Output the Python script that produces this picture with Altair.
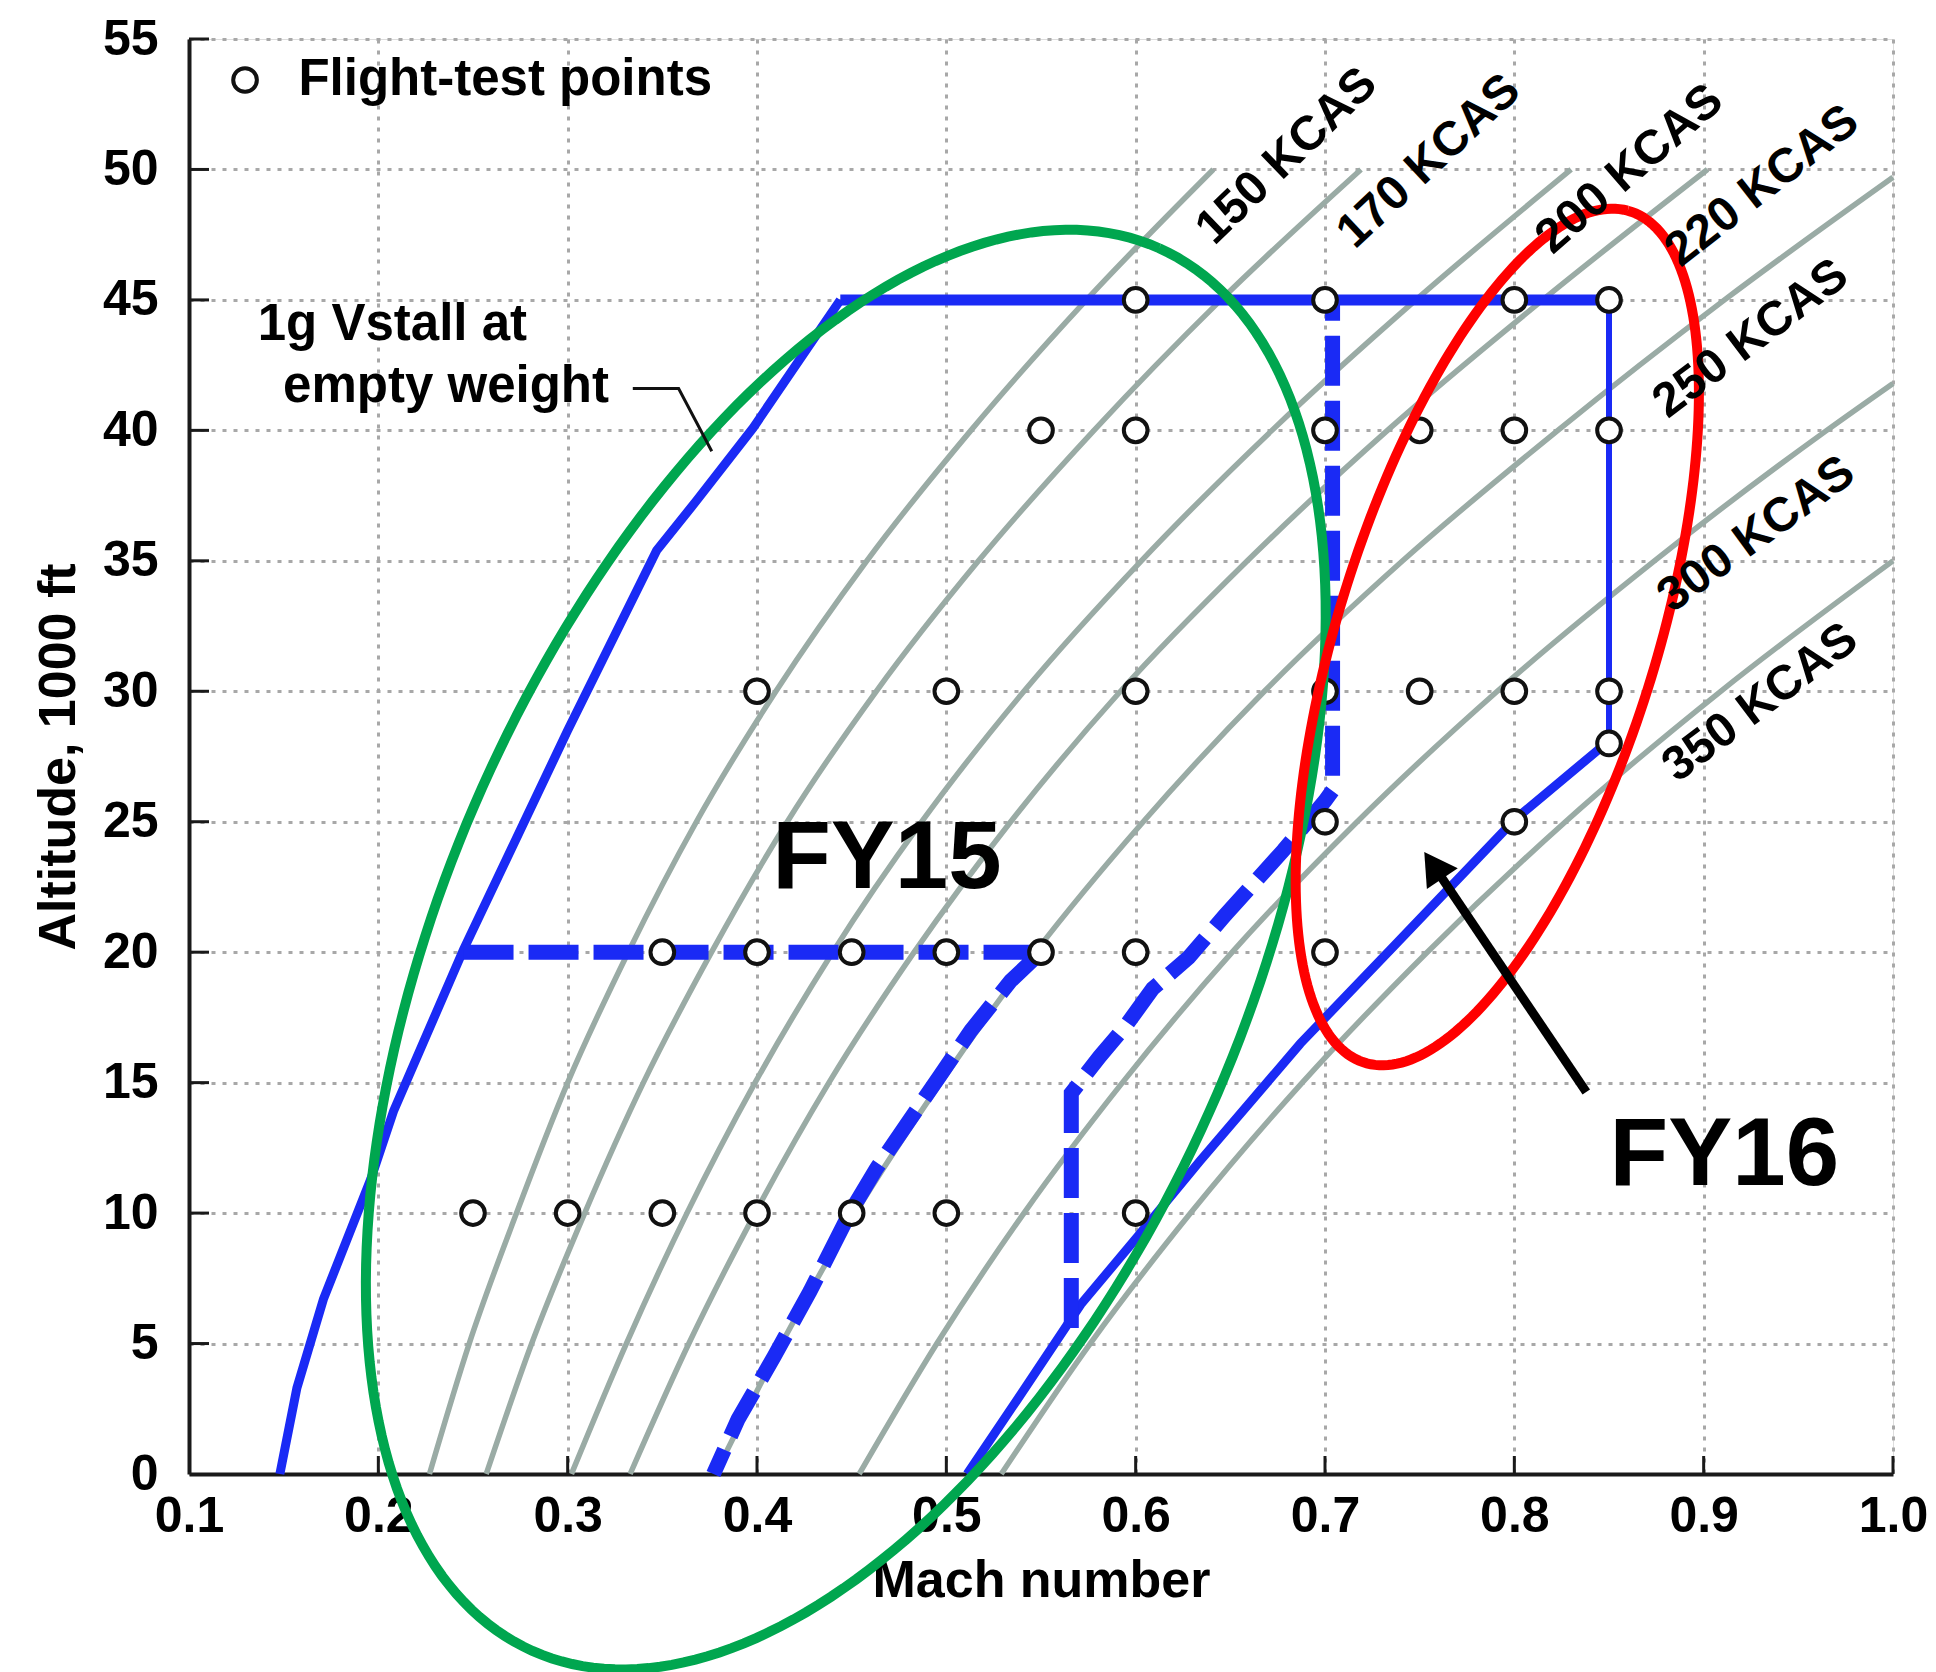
import numpy as np
import pandas as pd
import altair as alt

FONT = "Liberation Sans"
BLUE = "#1a2af5"
GRAY_LINE = "#9aaba5"
GREEN = "#00a64f"
RED = "#ff0000"

# ---------------- axis ticks ----------------
X_TICKS = [0.1, 0.2, 0.3, 0.4, 0.5, 0.6, 0.7, 0.8, 0.9, 1.0]
Y_TICKS = [0, 5, 10, 15, 20, 25, 30, 35, 40, 45, 50, 55]

# ---------------- constant-KCAS curves (Mach vs altitude, 1000 ft) ----------------
KCAS_NAMES = ["150 KCAS", "170 KCAS", "200 KCAS", "220 KCAS", "250 KCAS", "300 KCAS", "350 KCAS"]
KCAS_ALTS = [
    [0, 5, 10, 15, 20, 25, 30, 35, 40, 45, 50],
    [0, 5, 10, 15, 20, 25, 30, 35, 40, 45, 50],
    [0, 5, 10, 15, 20, 25, 30, 35, 40, 45, 50],
    [0, 5, 10, 15, 20, 25, 30, 35, 40, 45, 50],
    [0, 5, 10, 15, 20, 25, 30, 35, 40, 45, 49.7],
    [0, 5, 10, 15, 20, 25, 30, 35, 40, 41.8],
    [0, 5, 10, 15, 20, 25, 30, 35.0],
]
KCAS_MACH = [
    [0.227, 0.248, 0.273, 0.300, 0.332, 0.368, 0.410, 0.458, 0.513, 0.574, 0.641],
    [0.257, 0.281, 0.309, 0.340, 0.376, 0.416, 0.463, 0.517, 0.578, 0.645, 0.719],
    [0.302, 0.331, 0.363, 0.399, 0.440, 0.487, 0.541, 0.603, 0.672, 0.748, 0.830],
    [0.333, 0.364, 0.399, 0.438, 0.483, 0.534, 0.592, 0.659, 0.733, 0.815, 0.902],
    [0.378, 0.413, 0.452, 0.497, 0.547, 0.604, 0.668, 0.741, 0.823, 0.911, 1.000],
    [0.454, 0.495, 0.541, 0.593, 0.651, 0.717, 0.791, 0.874, 0.965, 1.000],
    [0.529, 0.576, 0.629, 0.688, 0.754, 0.827, 0.909, 1.000],
]
KCAS_LABEL_MACH = [0.680, 0.755, 0.861, 0.931, 0.925, 0.928, 0.930]
KCAS_LABEL_ALT = [50.5, 50.3, 50.0, 49.35, 43.5, 36.0, 29.55]
KCAS_LABEL_ANGLE = [316, 317, 319, 322, 323, 324, 323]

# ---------------- flight-test points ----------------
TEST_MACH = [0.60, 0.70, 0.80, 0.85,
             0.55, 0.60, 0.70, 0.75, 0.80, 0.85,
             0.40, 0.50, 0.60, 0.70, 0.75, 0.80, 0.85,
             0.85,
             0.70, 0.80,
             0.35, 0.40, 0.45, 0.50, 0.55, 0.60, 0.70,
             0.25, 0.30, 0.35, 0.40, 0.45, 0.50, 0.60]
TEST_ALT = [45, 45, 45, 45,
            40, 40, 40, 40, 40, 40,
            30, 30, 30, 30, 30, 30, 30,
            28,
            25, 25,
            20, 20, 20, 20, 20, 20, 20,
            10, 10, 10, 10, 10, 10, 10]

# ---------------- envelope (solid blue) ----------------
STALL_MACH = [0.148, 0.157, 0.171, 0.196, 0.208, 0.245, 0.300, 0.347, 0.368, 0.398, 0.444]
STALL_ALT = [0, 3.3, 6.7, 11.3, 13.9, 20.1, 28.5, 35.4, 37.3, 40.1, 45]
TOP_MACH = [0.444, 0.850]
TOP_ALT = [45, 45]
RIGHT_MACH = [0.850, 0.850]
RIGHT_ALT = [45, 28.1]
BOTTOM_MACH = [0.850, 0.8005, 0.736, 0.687, 0.634, 0.601, 0.571, 0.537, 0.511]
BOTTOM_ALT = [28.1, 25.1, 20.2, 16.5, 12.0, 9.1, 6.5, 2.8, 0]

# ---------------- dashed blue boundaries ----------------
DASH_A_MACH = [0.245, 0.550, 0.534, 0.513, 0.496, 0.480, 0.463, 0.449, 0.428, 0.409, 0.390, 0.377]
DASH_A_ALT = [20, 20, 18.9, 17.0, 15.2, 13.5, 11.7, 10.0, 7.0, 4.5, 2.1, 0]
DASH_B_MACH = [0.566, 0.566, 0.581, 0.595, 0.609, 0.628, 0.647, 0.678, 0.700, 0.704, 0.704]
DASH_B_ALT = [5.6, 14.6, 16.0, 17.2, 18.6, 19.8, 21.4, 23.9, 25.8, 26.2, 45]

# ---------------- annotation ellipses (centre, conjugate half-axes in data units) ----------------
GREEN_CENTER = [0.4469, 20.10]
GREEN_AXIS_1 = [0.1655, 26.88]
GREEN_AXIS_2 = [0.1920, -6.22]
RED_CENTER = [0.791, 32.08]
RED_AXIS_1 = [0.0689, 16.34]
RED_AXIS_2 = [0.0812, -1.58]

# ---------------- arrow, leader, texts ----------------
ARROW_MACH = [0.838, 0.7572]
ARROW_ALT = [14.64, 23.33]
LEADER_MACH = [0.3344, 0.3586, 0.3761]
LEADER_ALT = [41.6, 41.6, 39.2]

NOTE_TEXT = ["Flight-test points", "1g Vstall at", "empty weight"]
NOTE_MACH = [0.1578, 0.1363, 0.1497]
NOTE_ALT = [52.86, 43.47, 41.1]
LEGEND_MACH = [0.1296]
LEGEND_ALT = [53.43]

FY_TEXT = ["FY15", "FY16"]
FY_MACH = [0.4686, 0.9109]
FY_ALT = [23.57, 12.19]

# ---------------- build frames ----------------
def path(mach, alt_):
    return pd.DataFrame({"mach": mach, "alt": alt_, "i": list(range(len(mach)))})

kcas_rows = []
for name, ms, hs in zip(KCAS_NAMES, KCAS_MACH, KCAS_ALTS):
    for k, (m, h) in enumerate(zip(ms, hs)):
        kcas_rows.append({"kcas": name, "mach": m, "alt": h, "i": k})
kcas_df = pd.DataFrame(kcas_rows)

kcas_lab = pd.DataFrame({"label": KCAS_NAMES, "mach": KCAS_LABEL_MACH,
                         "alt": KCAS_LABEL_ALT, "ang": KCAS_LABEL_ANGLE})

pts_df = pd.DataFrame({"mach": TEST_MACH, "alt": TEST_ALT})
legend_df = pd.DataFrame({"mach": LEGEND_MACH, "alt": LEGEND_ALT})

dash_df = pd.concat([path(DASH_A_MACH, DASH_A_ALT).assign(seg="A"),
                     path(DASH_B_MACH, DASH_B_ALT).assign(seg="B")])

t = np.linspace(0, 2 * np.pi, 241)
def ellipse(c, a1, a2):
    return pd.DataFrame({
        "mach": c[0] + a1[0] * np.cos(t) + a2[0] * np.sin(t),
        "alt": c[1] + a1[1] * np.cos(t) + a2[1] * np.sin(t),
        "i": np.arange(len(t)),
    })

green_df = ellipse(GREEN_CENTER, GREEN_AXIS_1, GREEN_AXIS_2)
red_df = ellipse(RED_CENTER, RED_AXIS_1, RED_AXIS_2)

notes_df = pd.DataFrame({"label": NOTE_TEXT, "mach": NOTE_MACH, "alt": NOTE_ALT})
fy_df = pd.DataFrame({"label": FY_TEXT, "mach": FY_MACH, "alt": FY_ALT})
head_df = pd.DataFrame({"mach": [ARROW_MACH[1]], "alt": [ARROW_ALT[1]]})

xtick_df = pd.DataFrame({"mach": X_TICKS[1:]})
ytick_df = pd.DataFrame({"alt": Y_TICKS[1:]})

# ---------------- scales / axes ----------------
W, H = 1704, 1435
XS = alt.Scale(domain=[0.1, 1.0], nice=False, zero=False)
YS = alt.Scale(domain=[0, 55], nice=False, zero=False)

x_axis = alt.Axis(values=X_TICKS, format=".1f", labelFont=FONT, labelFontWeight="bold",
                  labelFontSize=50, labelColor="black", labelPadding=17, labelFlush=False,
                  labelOverlap=False, ticks=False, tickSize=0, domainColor="#1a1a1a",
                  domainWidth=4, grid=True, gridColor="#a8a8a8", gridDash=[4, 7],
                  gridWidth=3, titleFont=FONT, titleFontWeight="bold", titleFontSize=52,
                  titleColor="black", titlePadding=14)
y_axis = alt.Axis(values=Y_TICKS, format="d", labelFont=FONT, labelFontWeight="bold",
                  labelFontSize=50, labelColor="black", labelPadding=31, labelFlush=False,
                  labelOverlap=False, ticks=False, tickSize=0, domainColor="#1a1a1a",
                  domainWidth=4, grid=True, gridColor="#a8a8a8", gridDash=[4, 7],
                  gridWidth=3, titleFont=FONT, titleFontWeight="bold", titleFontSize=52,
                  titleColor="black", titlePadding=17)

def X():
    return alt.X("mach:Q", scale=XS, axis=x_axis, title="Mach number")

def Y():
    return alt.Y("alt:Q", scale=YS, axis=y_axis, title="Altitude, 1000 ft")

# ---------------- layers ----------------
kcas_lines = alt.Chart(kcas_df).mark_line(color=GRAY_LINE, strokeWidth=5.5, interpolate="monotone").encode(
    x=X(), y=Y(), detail="kcas:N", order="i:Q")

xticks = alt.Chart(xtick_df).mark_rule(color="#1a1a1a", strokeWidth=3).encode(
    x=X(), y=alt.value(H), y2=alt.value(H - 18))
yticks = alt.Chart(ytick_df).mark_rule(color="#1a1a1a", strokeWidth=3).encode(
    y=Y(), x=alt.value(0), x2=alt.value(20))

stall = alt.Chart(path(STALL_MACH, STALL_ALT)).mark_line(color=BLUE, strokeWidth=9).encode(
    x=X(), y=Y(), order="i:Q")
top = alt.Chart(path(TOP_MACH, TOP_ALT)).mark_line(color=BLUE, strokeWidth=11).encode(
    x=X(), y=Y(), order="i:Q")
right = alt.Chart(path(RIGHT_MACH, RIGHT_ALT)).mark_line(color=BLUE, strokeWidth=6).encode(
    x=X(), y=Y(), order="i:Q")
bottom = alt.Chart(path(BOTTOM_MACH, BOTTOM_ALT)).mark_line(color=BLUE, strokeWidth=9).encode(
    x=X(), y=Y(), order="i:Q")

dashed = alt.Chart(dash_df).mark_line(color=BLUE, strokeWidth=15, strokeDash=[50, 15],
                                      strokeCap="butt").encode(
    x=X(), y=Y(), detail="seg:N", order="i:Q")

points = alt.Chart(pts_df).mark_point(shape="circle", filled=True, color="white", stroke="#111111",
                                      strokeWidth=4, size=560, opacity=1).encode(x=X(), y=Y())
legend_pt = alt.Chart(legend_df).mark_point(shape="circle", filled=True, color="white",
                                            stroke="#111111", strokeWidth=4, size=560,
                                            opacity=1).encode(x=X(), y=Y())

green = alt.Chart(green_df).mark_line(color=GREEN, strokeWidth=10).encode(x=X(), y=Y(), order="i:Q")
red = alt.Chart(red_df).mark_line(color=RED, strokeWidth=10).encode(x=X(), y=Y(), order="i:Q")

leader = alt.Chart(path(LEADER_MACH, LEADER_ALT)).mark_line(color="#111111", strokeWidth=3).encode(
    x=X(), y=Y(), order="i:Q")
shaft = alt.Chart(path(ARROW_MACH, ARROW_ALT)).mark_line(color="black", strokeWidth=9).encode(
    x=X(), y=Y(), order="i:Q")
head = alt.Chart(head_df).mark_point(shape="triangle-up", filled=True, color="black", size=1390,
                                     angle=326, opacity=1).encode(x=X(), y=Y())

kcas_text = alt.Chart(kcas_lab).mark_text(font=FONT, fontWeight="bold", fontSize=48, color="black",
                                          align="center", baseline="middle").encode(
    x=X(), y=Y(), text="label:N", angle=alt.Angle("ang:Q", scale=None))

notes = alt.Chart(notes_df).mark_text(font=FONT, fontWeight="bold", fontSize=51, color="black",
                                      align="left", baseline="alphabetic").encode(
    x=X(), y=Y(), text="label:N")

fy = alt.Chart(fy_df).mark_text(font=FONT, fontWeight="bold", fontSize=96, color="black",
                                align="center", baseline="middle").encode(
    x=X(), y=Y(), text="label:N")

chart = alt.layer(
    kcas_lines, xticks, yticks, stall, top, right, bottom, dashed, points, legend_pt,
    green, red, leader, shaft, head, kcas_text, notes, fy
).properties(
    width=W, height=H,
    padding={"left": 189, "top": 39, "right": 43, "bottom": 198},
    autosize=alt.AutoSizeParams(type="none"),
).configure_view(stroke=None).configure(background="white")

chart.save("out.html", embed_options={"renderer": "svg", "actions": False})
